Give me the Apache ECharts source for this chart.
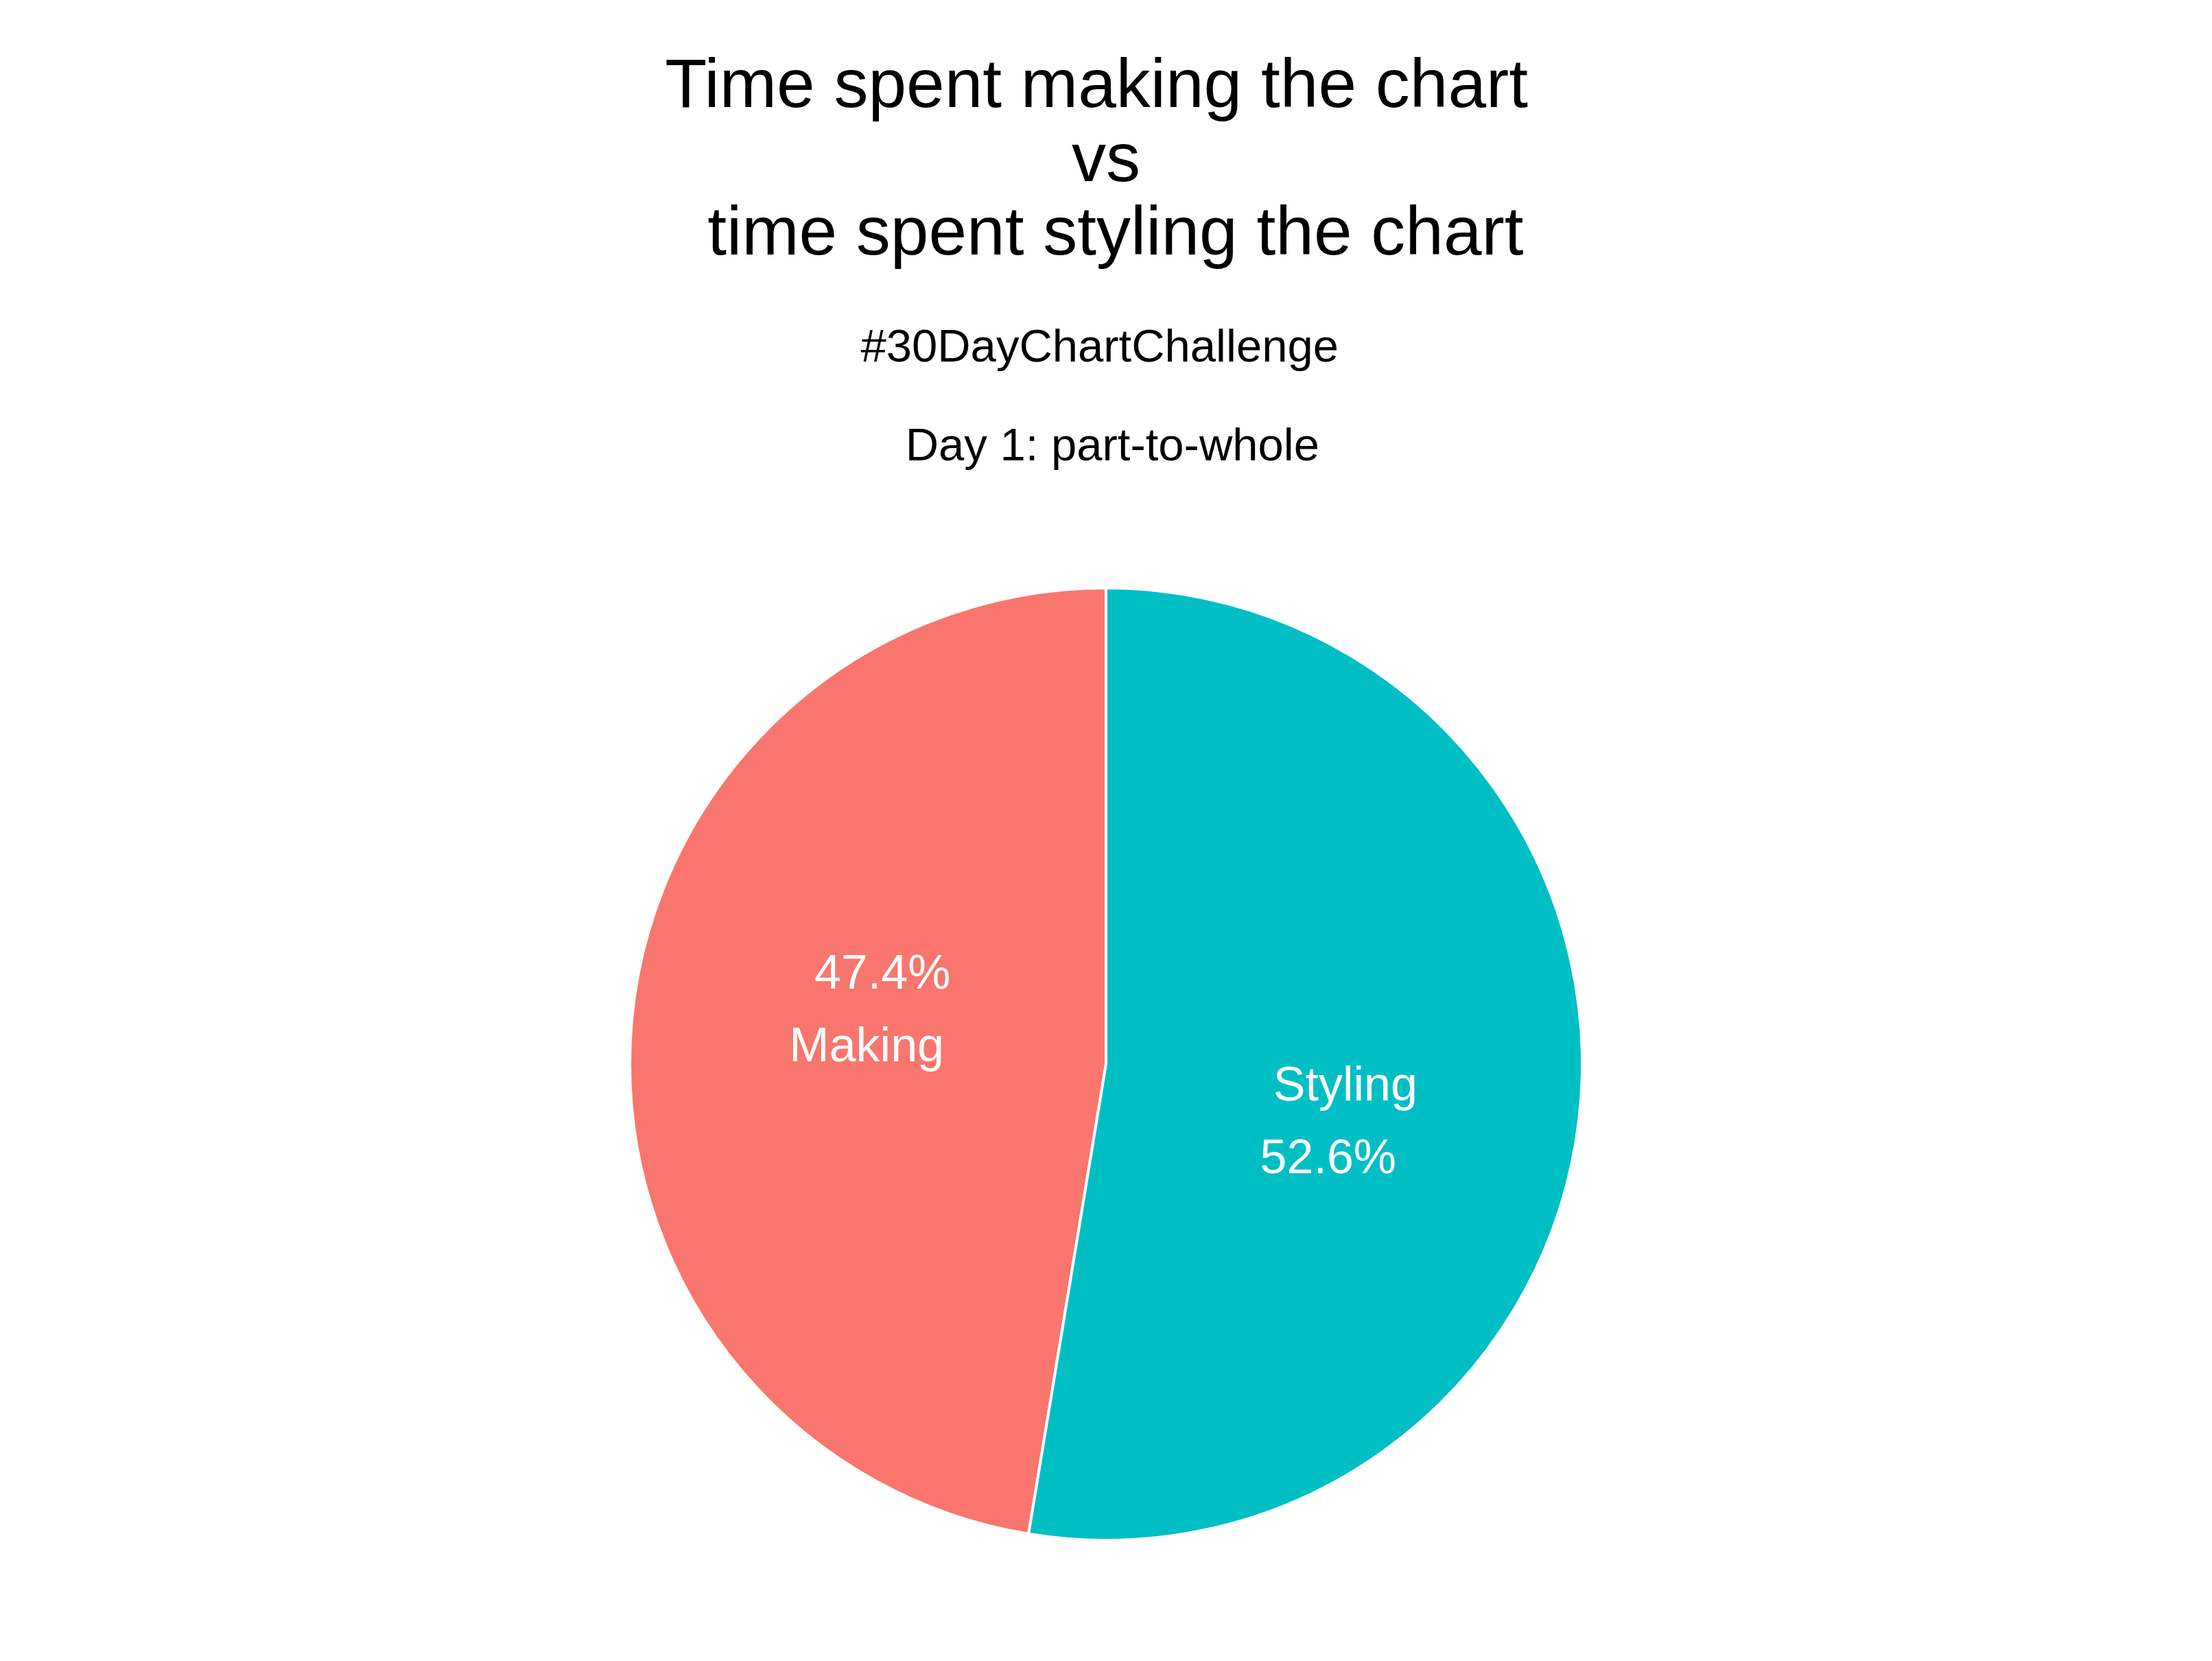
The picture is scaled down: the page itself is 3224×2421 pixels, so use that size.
<!DOCTYPE html>
<html>
<head>
<meta charset="utf-8">
<script src="https://cdn.jsdelivr.net/npm/echarts@6/dist/echarts.min.js"></script>
<style>
html,body{margin:0;padding:0;background:#fff;}
#chart{width:3224px;height:2421px;}
</style>
</head>
<body>
<div id="chart"></div>
<script>
// Data
const categories = ['Making', 'Styling'];
const shares = [47.4, 52.6];
const sliceColors = ['#F8766D', '#00BFC4'];
const titleText = 'Time spent making the chart \nvs\n time spent styling the chart';
const subtitleText = '#30DayChartChallenge \n\n Day 1: part-to-whole';

const FONT = '"Liberation Sans", Arial, Helvetica, sans-serif';

// label layout tweaks (style only)
const labelShift = { Making: { dx: 0, dy: -48 }, Styling: { dx: 0, dy: 58 } };

const chart = echarts.init(document.getElementById('chart'), null, { renderer: 'canvas' });

const data = categories.map((c, i) => ({
  name: c,
  value: shares[i],
  itemStyle: { color: sliceColors[i] }
}));

chart.setOption({
  backgroundColor: '#ffffff',
  animation: false,
  title: [
    {
      text: titleText,
      left: 'center',
      top: 70,
      textStyle: { fontFamily: FONT, fontSize: 100, fontWeight: 'normal', color: '#000', lineHeight: 107.5 }
    },
    {
      text: subtitleText,
      left: 'center',
      top: 468,
      textStyle: { fontFamily: FONT, fontSize: 67, fontWeight: 'normal', color: '#000', lineHeight: 72 }
    }
  ],
  series: [{
    type: 'pie',
    center: [1612, 1551],
    radius: [0, 694],
    startAngle: 90,
    clockwise: false,
    avoidLabelOverlap: false,
    itemStyle: { borderColor: '#ffffff', borderWidth: 4 },
    emphasis: { disabled: true },
    label: {
      show: true,
      position: 'inside',
      rotate: 0,
      color: '#fff',
      fontFamily: FONT,
      fontSize: 70,
      formatter: function (p) {
        const pct = p.value.toFixed(1) + '%';
        if (p.name === 'Making') return '{pm|' + pct + '}\n{n|' + p.name + '}';
        return '{n|' + p.name + '}\n{ps|' + pct + '}';
      },
      rich: {
        n: { color: '#fff', fontFamily: FONT, fontSize: 70, lineHeight: 106 },
        pm: { color: '#fff', fontFamily: FONT, fontSize: 70, lineHeight: 106, padding: [0, 0, 0, 46] },
        ps: { color: '#fff', fontFamily: FONT, fontSize: 70, lineHeight: 106, padding: [0, 50, 0, 0] }
      }
    },
    labelLine: { show: false },
    labelLayout: function (params) {
      const nm = categories[params.dataIndex];
      return { dx: labelShift[nm].dx, dy: labelShift[nm].dy };
    },
    data: data
  }]
});
</script>
</body>
</html>
